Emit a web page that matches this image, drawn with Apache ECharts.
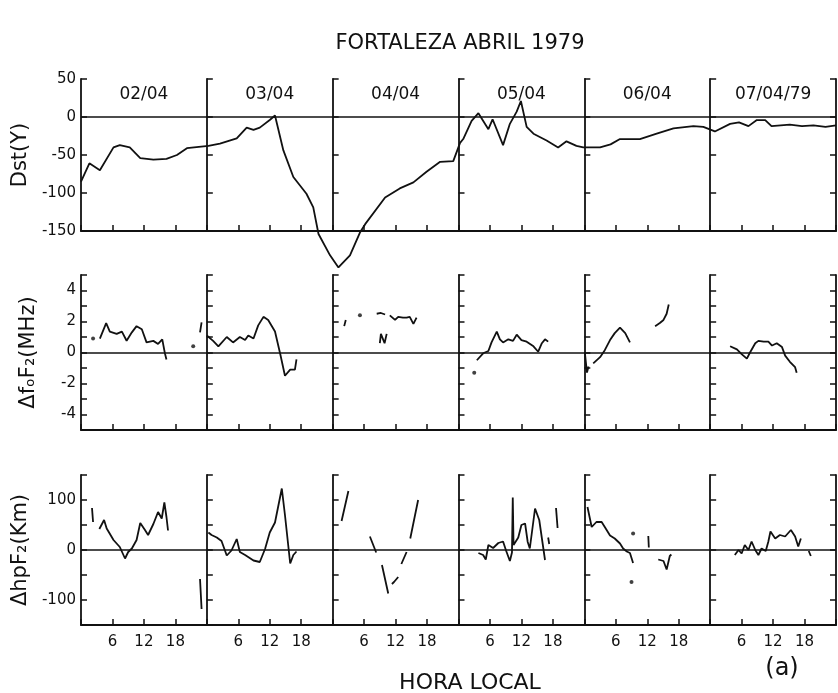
<!DOCTYPE html>
<html>
<head>
<meta charset="utf-8">
<title>Fortaleza Abril 1979</title>
<script src="https://cdn.jsdelivr.net/npm/echarts@6/dist/echarts.min.js"></script>
<style>
  html, body { margin: 0; padding: 0; background: #fff; }
  #chart { width: 838px; height: 693px; }
</style>
</head>
<body>
<div id="chart"></div>
<script>
// hours counted from 02/04 00h local time, 6 days on the x axis
const dayLabels = ['02/04', '03/04', '04/04', '05/04', '06/04', '07/04/79']
const dayCenters = [12, 36, 60, 84, 108, 132]
const hourTicks = [6, 12, 18, 30, 36, 42, 54, 60, 66, 78, 84, 90, 102, 108, 114, 126, 132, 138]

// Dst (gamma)
const dstHours = [0, 1.6, 3.6, 6.2, 7.4, 9.3, 11.3, 13.8, 16.3, 18.3, 20.2, 24.3, 26.5, 29.7, 31.6, 32.9, 34.1, 36, 37,
  38.6, 40.5, 43, 44.3, 45.3, 47.5, 49.1, 51.3, 53.2, 54.2, 58, 60.8, 63.4, 65.9, 68.5, 71, 72.3, 72.9, 74.5, 75.8,
  77.7, 78.5, 80.5, 81.8, 83.1, 83.9, 85, 86.3, 88.8, 91, 92.6, 94.5, 95.8, 99, 101, 102.8, 106.6, 109.8, 113, 116.8,
  118.7, 120.9, 123.8, 125.5, 127.3, 128.9, 130.5, 131.7, 135.2, 137.5, 139.7, 142, 144]
const dstValues = [-85, -61, -70, -40, -37, -40, -54, -56, -55, -50, -41, -38, -35, -28, -14, -17, -14, -4, 2,
  -44, -79, -101, -119, -154, -182, -198, -182, -152, -141, -106, -94, -86, -72, -59, -58, -34, -29, -5, 5,
  -16, -3, -37, -9, 7, 21, -13, -22, -31, -40, -32, -38, -40, -40, -36, -29, -29, -22, -15, -12,
  -13, -19, -9, -7, -12, -4, -4, -12, -10, -12, -11, -13, -11]

// delta foF2 (MHz), null = gap in the record
const foHours = [3.6, 4.8, 5.5, 6.8, 7.8, 8.7, 9.7, 10.6, 11.6, 12.5, 13.8, 14.7, 15.5, 16, 16.3, 20,
  22.7, 23, 23.5,
  24, 25.2, 26.2, 27.8, 29, 30.3, 31.3, 31.9, 32.9, 33.8, 34.8, 35.7, 37, 38, 38.9, 39.9, 40.8, 41.1, 45,
  50.2, 50.5, 52,
  56.4, 57.2, 58, 58.5,
  57, 57.2, 57.9, 58.3, 58.6,
  58.9, 59.9, 60.5, 61.4, 62.1, 62.7, 63.4, 64, 70,
  75.5, 76.7, 77.7, 78.3, 79.3, 79.9, 80.5, 81.5, 82.4, 83.1, 84, 85, 86.3, 87.2, 87.9, 88.5, 89.1, 92,
  96.1, 96.5, 96.8, 97.2,
  97.7, 98, 99, 99.9, 100.9, 101.8, 102.8, 103.8, 104.7, 107,
  109.5, 110.4, 111.1, 111.7, 112.1, 118,
  123.8, 125.1, 126, 127, 127.6, 128.6, 129.2, 130.2, 131.1, 131.8, 132.7, 133.7, 134.3, 135.2, 136.2, 136.5]
const foValues = [0.9, 1.9, 1.35, 1.2, 1.35, 0.76, 1.3, 1.7, 1.5, 0.65, 0.75, 0.55, 0.85, -0.05, -0.45, null,
  1.3, 1.95, null,
  1.1, 0.75, 0.4, 1, 0.65, 1, 0.8, 1.1, 0.9, 1.75, 2.3, 2.1, 1.35, -0.1, -1.5, -1.1, -1.1, -0.45, null,
  1.7, 2.1, null,
  2.5, 2.55, 2.45, null,
  0.6, 1.2, 0.6, 1.2, null,
  2.4, 2.1, 2.3, 2.25, 2.25, 2.3, 1.85, 2.25, null,
  -0.5, -0.05, 0.1, 0.65, 1.35, 0.85, 0.65, 0.85, 0.75, 1.15, 0.8, 0.7, 0.4, 0.05, 0.6, 0.85, 0.7, null,
  0, -1.3, -0.9, null,
  -0.7, -0.6, -0.3, 0.15, 0.8, 1.25, 1.6, 1.25, 0.65, null,
  1.7, 1.9, 2.1, 2.5, 3.1, null,
  0.4, 0.2, -0.1, -0.4, 0, 0.6, 0.75, 0.7, 0.7, 0.45, 0.6, 0.35, -0.2, -0.6, -0.95, -1.3]
const foDotHours = [2.3, 21.4, 53.2, 75]
const foDotValues = [0.9, 0.4, 2.4, -1.3]

// delta hpF2 (km), null = gap in the record
const hpHours = [2.1, 2.3, 3,
  3.5, 3.9, 4.4, 4.9, 6.2, 7.4, 8.4, 9, 9.7, 10.6, 11.3, 12.2, 12.8, 13.8, 14.7, 15.4, 15.9, 16.3, 16.6, 20,
  22.7, 23, 23.5,
  24.3, 24.9, 25.9, 26.8, 27.8, 28.7, 29.7, 30.3, 31.3, 32.9, 34.1, 35.1, 36, 37, 38.3, 38.9, 39.9, 40.5, 41.1, 45,
  49.7, 51, 53,
  55.1, 56.3, 56.8,
  57.4, 58.6, 59,
  59.3, 59.7, 60.5, 60.8,
  61.1, 62.1, 62.5,
  62.8, 64.3, 70,
  75.8, 76.7, 77.2, 77.7, 78.6, 79.6, 80.5, 81.1, 81.8, 82.2, 82.35, 82.5, 83.4, 84, 84.7, 85.2, 85.6, 86.6, 87.4, 88.5, 88.8,
  89.1, 89.3, 90,
  90.6, 90.9, 93,
  96.6, 97.4, 98.3, 99.3, 99.9, 100.9, 101.8, 102.8, 103.4, 104.1, 104.7, 105.3, 107,
  108.2, 108.3, 109,
  110.1, 111.1, 111.7, 112.3, 112.6, 118,
  124.7, 125.4, 126, 126.6, 127.3, 127.9, 128.6, 129.2, 129.8, 130.6, 131.1, 131.5, 132.4, 133.3, 134.3, 135.4, 136.2, 136.8, 137.3, 138,
  138.8, 139.2]
const hpValues = [84, 56, null,
  42, 50, 60, 43, 20, 6, -17, -4, 3, 20, 54, 40, 30, 52, 76, 63, 95, 66, 39, null,
  -58, -118, null,
  35, 30, 25, 18, -11, -1, 22, -4, -10, -21, -24, 2, 35, 55, 123, 70, -27, -10, -3, null,
  58, 118, null,
  27, -5, null,
  -30, -87, null,
  -68, -64, -54, null,
  -28, -4, null,
  23, 100, null,
  -6, -10, -19, 10, 4, 14, 17, -2, -22, -5, 105, 10, 25, 50, 53, 16, 3, 83, 60, -20, null,
  25, 12, null,
  84, 44, null,
  86, 46, 56, 56, 46, 29, 23, 13, 3, -3, -6, -26, null,
  28, 5, null,
  -19, -22, -39, -12, -9, null,
  -10, 0, -7, 10, 0, 17, 0, -10, 3, -2, 17, 37, 23, 30, 27, 40, 27, 7, 23, null,
  -2, -12]
const hpDotHours = [105.3, 105]
const hpDotValues = [33, -64]

const pair = (hs, vs) => hs.map((h, i) => [h, vs[i]])

const font = 'DejaVu Sans'
const ink = '#111'
const gridTops = [79, 275, 475]
const gridHeights = [152, 155, 150]
const gridLeft = 81
const gridWidth = 755
const dayW = gridWidth / 6

const yDefs = [
  { min: -150, max: 50, interval: 50, labels: [-150, -100, -50, 0, 50], name: 'Dst(Y)', gap: 38 },
  { min: -5, max: 5, interval: 1, labels: [-4, -2, 0, 2, 4], name: 'ΔfₒF₂(MHz)', gap: 42 },
  { min: -150, max: 150, interval: 50, labels: [-100, 0, 100], name: 'ΔhpF₂(Km)', gap: 38 }
]

const grids = gridTops.map((t, i) => ({ left: gridLeft, width: gridWidth, top: t, height: gridHeights[i] }))

const yAxes = []
yDefs.forEach((d, g) => {
  const base = {
    gridIndex: g, type: 'value', min: d.min, max: d.max, interval: d.interval,
    splitLine: { show: false },
    axisLine: { show: true, lineStyle: { color: ink, width: 1.8 } },
    axisTick: { show: true, inside: true, length: 6, lineStyle: { color: ink, width: 1.5 } }
  }
  yAxes.push(Object.assign({}, base, {
    position: 'left',
    axisLabel: { customValues: d.labels, color: ink, fontFamily: font, fontSize: 15, margin: 5 },
    name: d.name, nameLocation: 'middle', nameRotate: 90, nameGap: d.gap,
    nameTextStyle: { color: ink, fontFamily: font, fontSize: 21 }
  }))
  for (let k = 1; k <= 5; k++) {
    yAxes.push(Object.assign({}, base, { position: 'left', offset: -dayW * k, axisLabel: { show: false } }))
  }
  yAxes.push(Object.assign({}, base, { position: 'right', axisLabel: { show: false } }))
})

const xAxes = [0, 1, 2].map(g => ({
  gridIndex: g, type: 'value', min: 0, max: 144, interval: 24, position: 'bottom',
  splitLine: { show: false },
  axisLine: { show: true, onZero: false, lineStyle: { color: ink, width: 1.8 } },
  axisTick: { show: true, inside: true, length: 6, lineStyle: { color: ink, width: 1.5 } },
  minorTick: { show: true, splitNumber: 4, length: 6, lineStyle: { color: ink, width: 1.5 } },
  axisLabel: g === 2
    ? { customValues: hourTicks, formatter: v => String(v % 24), color: ink, fontFamily: font, fontSize: 15, margin: 10 }
    : { show: false }
}))
xAxes.push({
  gridIndex: 0, type: 'value', min: 0, max: 144, position: 'top',
  axisLine: { show: false }, axisTick: { show: false }, splitLine: { show: false },
  axisLabel: {
    inside: true, customValues: dayCenters, margin: 7,
    formatter: v => dayLabels[dayCenters.indexOf(v)],
    color: ink, fontFamily: font, fontSize: 17
  }
})

const zeroLine = {
  silent: true, symbol: ['none', 'none'], label: { show: false },
  lineStyle: { color: ink, type: 'solid', width: 1.5 },
  data: [{ yAxis: 0 }]
}
const lineBase = {
  type: 'line', showSymbol: false, symbol: 'none', connectNulls: false, clip: false,
  lineStyle: { color: ink, width: 1.8 }
}

const chart = echarts.init(document.getElementById('chart'))
chart.setOption({
  animation: false,
  backgroundColor: '#fff',
  title: [
    { text: 'FORTALEZA ABRIL 1979', left: 455, top: 28, textAlign: 'center',
      textStyle: { color: ink, fontFamily: font, fontSize: 21, fontWeight: 'normal' } },
    { text: 'HORA LOCAL', left: 465, top: 667, textAlign: 'center',
      textStyle: { color: ink, fontFamily: font, fontSize: 22, fontWeight: 'normal' } },
    { text: '(a)', left: 777, top: 652, textAlign: 'center',
      textStyle: { color: ink, fontFamily: font, fontSize: 24, fontWeight: 'normal' } }
  ],
  grid: grids,
  xAxis: xAxes,
  yAxis: yAxes,
  series: [
    Object.assign({}, lineBase, { name: 'Dst', xAxisIndex: 0, yAxisIndex: 0, data: pair(dstHours, dstValues), markLine: zeroLine }),
    Object.assign({}, lineBase, { name: 'ΔfoF2', xAxisIndex: 1, yAxisIndex: 7, data: pair(foHours, foValues), markLine: zeroLine }),
    { type: 'scatter', xAxisIndex: 1, yAxisIndex: 7, symbolSize: 4, itemStyle: { color: ink }, data: pair(foDotHours, foDotValues) },
    Object.assign({}, lineBase, { name: 'ΔhpF2', xAxisIndex: 2, yAxisIndex: 14, data: pair(hpHours, hpValues), markLine: zeroLine }),
    { type: 'scatter', xAxisIndex: 2, yAxisIndex: 14, symbolSize: 4, itemStyle: { color: ink }, data: pair(hpDotHours, hpDotValues) }
  ]
})
</script>
</body>
</html>
